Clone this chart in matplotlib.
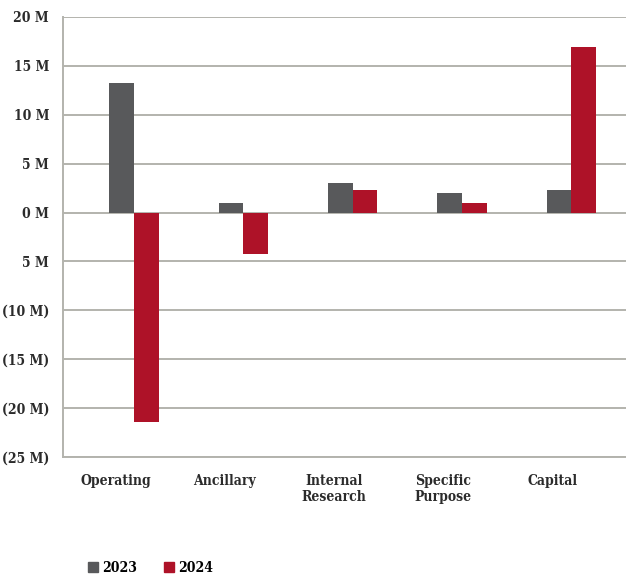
import matplotlib.pyplot as plt
from matplotlib.patches import Patch
import numpy as np

categories = ["Operating", "Ancillary", "Internal\nResearch", "Specific\nPurpose", "Capital"]
fy2023 = [13.3, 1.0, 3.0, 1.95, 2.35]
fy2024 = [-21.4, -4.2, 2.35, 1.0, 16.9]
yticks = [20, 15, 10, 5, 0, -5, -10, -15, -20, -25]
ytick_labels = ["20 M", "15 M", "10 M", "5 M", "0 M", "5 M", "(10 M)", "(15 M)", "(20 M)", "(25 M)"]

c2023 = "#58595b"
c2024 = "#ae1228"
grid_c = "#b3b3ad"

plt.rcParams['font.family'] = ['DejaVu Serif']
plt.rcParams['font.weight'] = 'bold'
plt.rcParams['font.stretch'] = 'condensed'

fig = plt.figure(figsize=(6.26, 5.75), dpi=100)
ax = fig.add_axes([63 / 626, 1 - 457 / 575, 1 - 63 / 626, (457 - 17) / 575])

x = np.arange(len(categories))
w = 0.225
ax.bar(x - w / 2, fy2023, w, color=c2023, zorder=3)
ax.bar(x + w / 2, fy2024, w, color=c2024, zorder=3)

ax.set_xlim(-0.65, 4.5)
ax.set_ylim(-25, 20)
ax.set_yticks(yticks)
ax.set_yticklabels(ytick_labels, fontsize=10)
ax.set_xticks(x - 0.17)
ax.set_xticklabels(categories, fontsize=10, linespacing=1.2)
ax.tick_params(axis='both', length=0, colors='#2b2b2b')
ax.tick_params(axis='x', pad=12)
ax.tick_params(axis='y', pad=10)

ax.grid(axis='y', color=grid_c, linewidth=1.4, zorder=0)
for s in ['top', 'right']:
    ax.spines[s].set_visible(False)
ax.spines['left'].set_color(grid_c)
ax.spines['left'].set_linewidth(1.4)
ax.spines['bottom'].set_color(grid_c)
ax.spines['bottom'].set_linewidth(1.4)

handles = [Patch(color=c2023, label="2023"), Patch(color=c2024, label="2024")]
fig.legend(handles=handles, loc='center left', bbox_to_anchor=(88 / 626, 1 - 568 / 575),
           ncol=2, frameon=False, fontsize=10, handlelength=0.7, handleheight=0.7,
           handletextpad=0.35, columnspacing=1.9, borderaxespad=0, borderpad=0)

fig.savefig("out.png", dpi=100)
